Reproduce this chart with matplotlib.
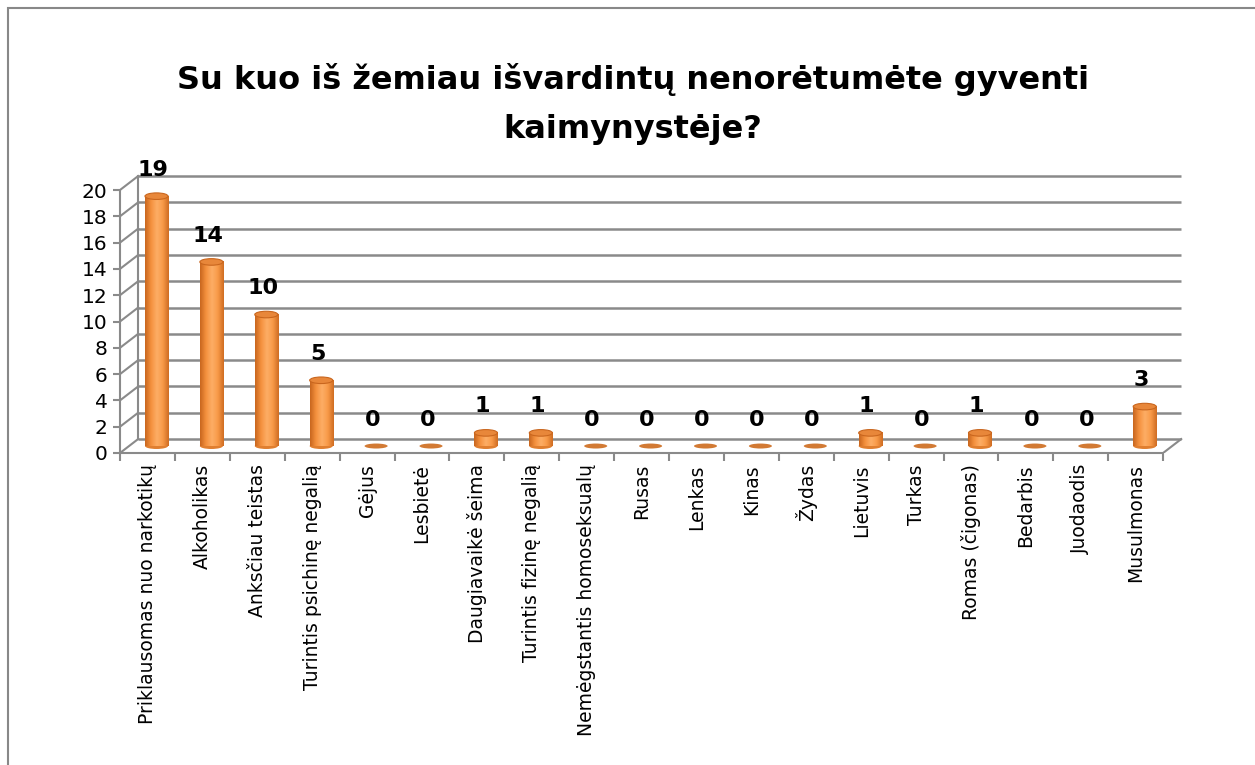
import numpy as np
import matplotlib
matplotlib.use('Agg')
import matplotlib.pyplot as plt
from matplotlib.patches import Ellipse, Rectangle
from matplotlib.colors import LinearSegmentedColormap

# --- DUOMENYS ---
kategorijos = ['Priklausomas nuo narkotikų', 'Alkoholikas', 'Anksčiau teistas',
               'Turintis psichinę negalią', 'Gėjus', 'Lesbietė', 'Daugiavaikė šeima',
               'Turintis fizinę negalią', 'Nemėgstantis homoseksualų', 'Rusas',
               'Lenkas', 'Kinas', 'Žydas', 'Lietuvis', 'Turkas', 'Romas (čigonas)',
               'Bedarbis', 'Juodaodis', 'Musulmonas']
reiksmes = [19, 14, 10, 5, 0, 0, 1, 1, 0, 0, 0, 0, 0, 1, 0, 1, 0, 0, 3]
y_ticks = list(range(0, 21, 2))
pavadinimas = 'Su kuo iš žemiau išvardintų nenorėtumėte gyventi\nkaimynystėje?'

# 3D efekto gylis (duomenų vienetais)
GYLIS_X = 0.33
GYLIS_Y = 1.06
PLOTIS = 0.42
PILKA = '#8a8a8a'

W, H = 1255, 765
fig = plt.figure(figsize=(W / 100, H / 100), dpi=100)

# rėmelis
fig.patches.append(Rectangle((8 / W, -0.2), 1.2, 1.2 - 8 / H, transform=fig.transFigure,
                             fill=False, edgecolor='#888888', linewidth=1.5))

x_min, x_max = -0.5, 18.9
y_min, y_max = 0, 21.5
px_x = 54.9
px_y = 13.15
ax = fig.add_axes([120 / W, 1 - 453 / H, (x_max - x_min) * px_x / W, (y_max - y_min) * px_y / H])
ax.patch.set_alpha(0)

n = len(kategorijos)
x = np.arange(n)

# galinė siena - tinklelis
for v in y_ticks:
    ax.plot([x_min + GYLIS_X, n - 0.5 + GYLIS_X], [v + GYLIS_Y, v + GYLIS_Y],
            color=PILKA, lw=1.8, zorder=1, solid_capstyle='butt')
    ax.plot([x_min, x_min + GYLIS_X], [v, v + GYLIS_Y], color=PILKA, lw=1.5, zorder=1)
ax.plot([x_min + GYLIS_X] * 2, [GYLIS_Y, y_ticks[-1] + GYLIS_Y], color=PILKA, lw=1.5, zorder=1)
# grindys
ax.plot([n - 0.5, n - 0.5 + GYLIS_X], [0, GYLIS_Y], color=PILKA, lw=1.5, zorder=1)

# cilindrai
cmap = LinearSegmentedColormap.from_list('cil', ['#c8661e', '#f5913e', '#fdae66', '#f89a48', '#cf6c22'])
grad = np.linspace(0, 1, 64).reshape(1, -1)
for xi, v in zip(x, reiksmes):
    cx = xi + GYLIS_X / 2
    base = GYLIS_Y / 2
    if v == 0:
        ax.add_patch(Ellipse((cx, base), PLOTIS, 0.38, facecolor='#d27a34', edgecolor='none', zorder=3))
    else:
        ax.add_patch(Ellipse((cx, base), PLOTIS, 0.45, facecolor='#e07f30', edgecolor='none', zorder=2))
        ax.imshow(grad, cmap=cmap, aspect='auto', interpolation='bicubic', zorder=3,
                  extent=(cx - PLOTIS / 2, cx + PLOTIS / 2, base, base + v))
        ax.add_patch(Ellipse((cx, base + v), PLOTIS, 0.5, facecolor='#e8873a',
                             edgecolor='#c9661e', lw=0.8, zorder=4))
    ax.annotate(str(v), (xi + 0.1, v + GYLIS_Y / 2), xytext=(0, 19), textcoords='offset points',
                ha='center', va='center', fontsize=16, fontweight='bold', zorder=5)

ax.set_xlim(x_min, x_max)
ax.set_ylim(y_min, y_max)

for s in ['top', 'right']:
    ax.spines[s].set_visible(False)
ax.spines['left'].set_bounds(0, 20)
ax.spines['bottom'].set_bounds(-0.5, n - 0.5)
ax.spines['left'].set_color(PILKA)
ax.spines['bottom'].set_color(PILKA)
ax.spines['left'].set_linewidth(1.5)
ax.spines['bottom'].set_linewidth(1.5)

ax.set_yticks(y_ticks)
ax.set_yticklabels([str(t) for t in y_ticks], fontsize=14.5)
ax.tick_params(axis='y', length=5, color=PILKA, width=1.5, pad=4)

ax.set_xticks(x)
ax.set_xticklabels(kategorijos, rotation=90, fontsize=13.5, ha='center', va='top')
ax.set_xticks(np.arange(-0.5, n), minor=True)
ax.tick_params(axis='x', which='major', length=0, pad=8)
ax.tick_params(axis='x', which='minor', length=6, color=PILKA, width=1.5)

fig.text(633 / W, 1 - 104 / H, pavadinimas, ha='center', va='center', fontsize=23,
         fontweight='bold', linespacing=1.75)

fig.savefig('out.png', dpi=100)
